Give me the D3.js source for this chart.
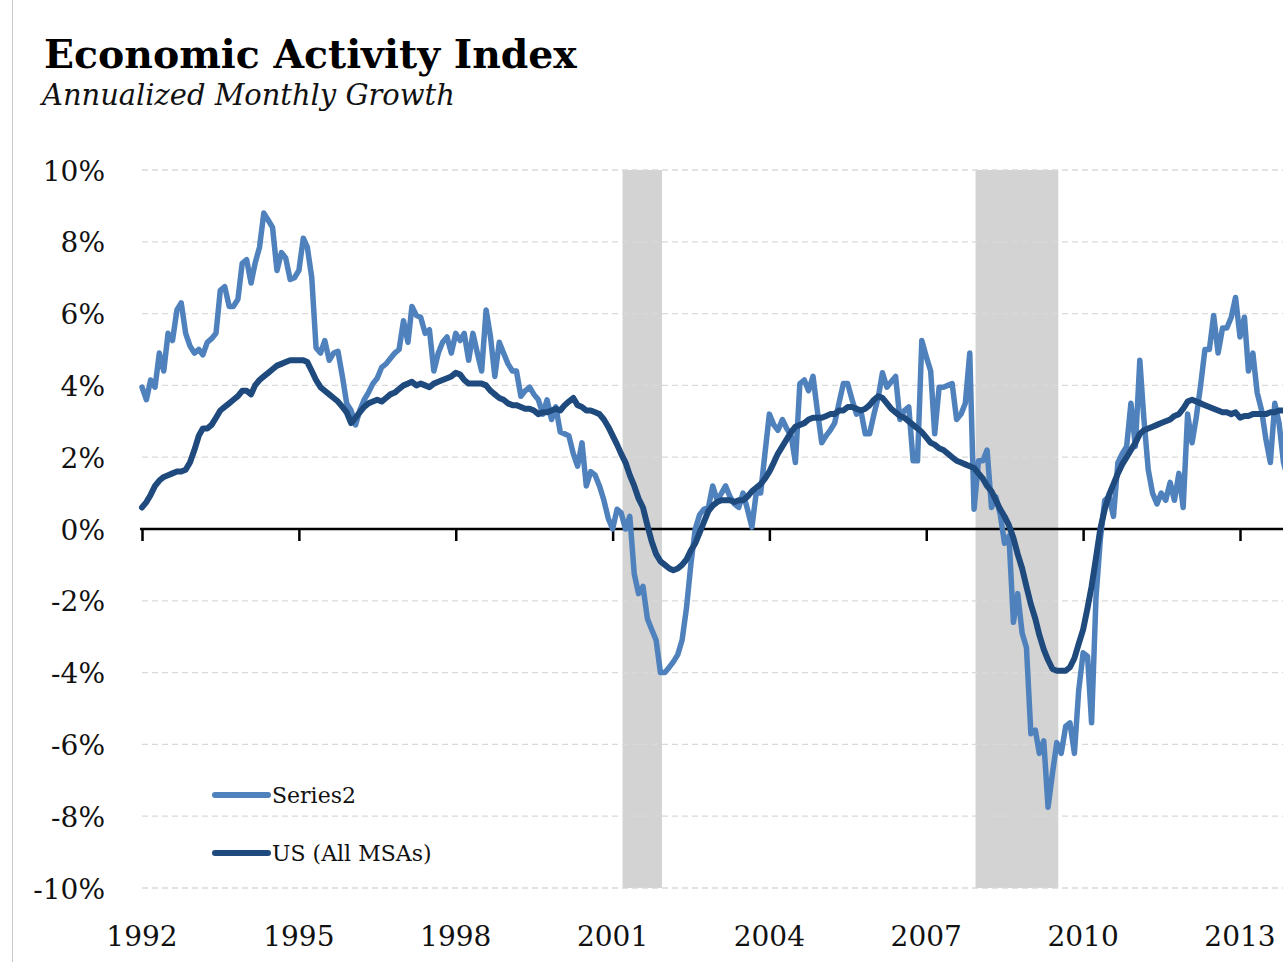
<!DOCTYPE html>
<html>
<head>
<meta charset="utf-8">
<script src="https://cdn.jsdelivr.net/npm/d3@7"></script>
<style>
  html, body { margin: 0; padding: 0; background: #fff; overflow: hidden; }
  svg { display: block; }
</style>
</head>
<body>
<svg id="chart" width="1283" height="962"></svg>
<script>
// ---------- DATA ----------
const titleText = "Economic Activity Index";
const subtitleText = "Annualized Monthly Growth";
const firstMonth = "1992-01";
const seriesNames = ["Series2", "US (All MSAs)"];

// Series2, monthly from Jan 1992 (annualized % growth)
const series2 = [
  3.95,3.6,4.15,3.95,4.9,4.4,5.45,5.25,6.1,6.3,5.45,5.1,
  4.9,5.0,4.85,5.2,5.3,5.45,6.65,6.75,6.2,6.2,6.4,7.4,
  7.5,6.85,7.4,7.85,8.8,8.6,8.4,7.2,7.7,7.55,6.95,7.0,
  7.2,8.1,7.85,7.0,5.05,4.9,5.25,4.7,4.9,4.95,4.25,3.5,
  3.3,2.9,3.3,3.6,3.8,4.05,4.2,4.5,4.6,4.75,4.9,5.0,
  5.8,5.2,6.2,5.95,5.9,5.45,5.55,4.4,4.9,5.2,5.35,4.9,
  5.45,5.25,5.45,4.7,5.45,4.9,4.4,6.1,5.35,4.25,5.2,4.9,
  4.6,4.4,4.4,3.7,3.85,3.95,3.75,3.6,3.2,3.6,3.05,3.4,
  2.7,2.65,2.6,2.1,1.75,2.4,1.2,1.6,1.5,1.2,0.8,0.3,
  0.0,0.55,0.45,0.0,0.35,-1.25,-1.8,-1.6,-2.5,-2.8,-3.1,-4.0,
  -4.0,-3.85,-3.7,-3.5,-3.1,-2.2,-1.0,0.0,0.4,0.55,0.6,1.2,
  0.8,1.0,1.2,0.9,0.7,0.6,1.0,0.55,0.05,1.0,1.0,2.1,
  3.2,2.9,2.75,3.05,2.8,2.6,1.85,4.05,4.15,3.85,4.25,3.3,
  2.4,2.6,2.75,2.95,3.5,4.05,4.05,3.6,3.2,3.3,2.65,2.65,
  3.2,3.7,4.35,3.95,4.1,4.25,3.05,3.3,3.4,1.9,1.9,5.25,
  4.8,4.4,2.65,3.95,3.95,4.0,4.05,3.05,3.2,3.5,4.9,0.55,
  1.9,1.9,2.2,0.6,0.9,0.4,-0.4,-0.2,-2.6,-1.8,-2.9,-3.3,
  -5.7,-5.6,-6.25,-5.9,-7.75,-6.8,-5.95,-6.25,-5.5,-5.4,-6.25,-4.5,
  -3.45,-3.55,-5.4,-1.9,-0.3,0.8,0.9,0.35,1.85,2.1,2.3,3.5,
  2.3,4.7,3.1,1.65,1.0,0.7,1.0,0.8,1.3,0.8,1.55,0.6,
  3.2,2.4,3.1,4.0,5.0,5.0,5.95,4.9,5.6,5.6,5.9,6.45,
  5.35,5.9,4.4,4.9,3.8,3.3,2.5,1.85,3.5,2.95,1.85,1.4
];

// US (All MSAs), monthly from Jan 1992
const usAll = [
  0.6,0.75,0.95,1.2,1.35,1.45,1.5,1.55,1.6,1.6,1.65,1.85,
  2.2,2.6,2.8,2.8,2.9,3.1,3.3,3.4,3.5,3.6,3.7,3.85,
  3.85,3.75,4.0,4.15,4.25,4.35,4.45,4.55,4.6,4.65,4.7,4.7,
  4.7,4.7,4.65,4.4,4.15,3.95,3.85,3.75,3.65,3.55,3.4,3.25,
  2.95,3.1,3.25,3.4,3.5,3.55,3.6,3.55,3.65,3.75,3.8,3.9,
  4.0,4.05,4.1,4.0,4.05,4.0,3.95,4.05,4.1,4.15,4.2,4.25,
  4.35,4.3,4.15,4.05,4.05,4.05,4.05,4.0,3.85,3.75,3.65,3.6,
  3.5,3.45,3.45,3.4,3.35,3.35,3.3,3.2,3.25,3.25,3.3,3.35,
  3.3,3.45,3.55,3.65,3.45,3.4,3.3,3.3,3.25,3.2,3.05,2.85,
  2.6,2.35,2.1,1.85,1.5,1.2,0.85,0.6,0.1,-0.35,-0.7,-0.9,
  -1.0,-1.1,-1.15,-1.1,-1.0,-0.85,-0.6,-0.4,-0.1,0.2,0.5,0.65,
  0.75,0.8,0.8,0.8,0.75,0.8,0.8,0.9,1.05,1.15,1.25,1.4,
  1.6,1.85,2.1,2.3,2.5,2.7,2.85,2.9,2.95,3.05,3.1,3.1,
  3.1,3.15,3.2,3.2,3.3,3.3,3.4,3.4,3.35,3.3,3.35,3.45,
  3.6,3.7,3.65,3.5,3.35,3.25,3.15,3.1,3.0,2.9,2.8,2.7,
  2.55,2.4,2.35,2.25,2.2,2.1,2.0,1.9,1.85,1.8,1.75,1.7,
  1.55,1.4,1.2,1.05,0.8,0.55,0.35,0.1,-0.25,-0.7,-1.1,-1.6,
  -2.1,-2.5,-2.95,-3.35,-3.65,-3.9,-3.95,-3.95,-3.95,-3.85,-3.6,-3.2,
  -2.8,-2.2,-1.6,-0.8,0.0,0.55,0.95,1.25,1.55,1.8,2.0,2.2,
  2.4,2.65,2.75,2.8,2.85,2.9,2.95,3.0,3.05,3.15,3.2,3.35,
  3.55,3.6,3.55,3.5,3.45,3.4,3.35,3.3,3.25,3.25,3.2,3.25,
  3.1,3.15,3.15,3.2,3.2,3.2,3.2,3.25,3.25,3.3,3.3,3.3
];

// Recessions (shaded): [start month, end month (exclusive)]
const recessionStarts = ["2001-03", "2007-12"];
const recessionEnds   = ["2001-12", "2009-07"];

const yTicks = [-10, -8, -6, -4, -2, 0, 2, 4, 6, 8, 10];
const xTickYears = [1992, 1995, 1998, 2001, 2004, 2007, 2010, 2013];

// ---------- DRAW ----------
const parseMonth = d3.timeParse("%Y-%m");
const start = parseMonth(firstMonth);
const months = series2.map((_, i) => d3.timeMonth.offset(start, i));

const svg = d3.select("#chart");
const W = 1283, H = 962;
const serif = "Georgia, 'DejaVu Serif', serif";

const x = d3.scaleTime()
  .domain([new Date(1992, 0, 1), new Date(2013, 0, 1)])
  .range([142, 1240]);
const y = d3.scaleLinear().domain([-10, 10]).range([888, 170]);

// left border line
svg.append("line").attr("x1", 12.5).attr("x2", 12.5).attr("y1", 0).attr("y2", H)
  .attr("stroke", "#c8c8c8").attr("stroke-width", 1);

// recession bands
svg.append("g").selectAll("rect")
  .data(recessionStarts.map((s, i) => [parseMonth(s), parseMonth(recessionEnds[i])]))
  .join("rect")
  .attr("x", d => x(d[0]) + 1.5)
  .attr("width", d => x(d[1]) - x(d[0]))
  .attr("y", y(10))
  .attr("height", y(-10) - y(10))
  .attr("fill", "#d3d3d3");

// gridlines
svg.append("g").selectAll("line")
  .data(yTicks.filter(t => t !== 0))
  .join("line")
  .attr("x1", 142).attr("x2", W)
  .attr("y1", d => y(d)).attr("y2", d => y(d))
  .attr("stroke", "#d9d9d9").attr("stroke-width", 1.3)
  .attr("stroke-dasharray", "6,4");

// y-axis labels
const yAxis = d3.axisLeft(y).tickValues(yTicks).tickSize(0).tickPadding(0)
  .tickFormat(d => d + "%");
const gy = svg.append("g").attr("transform", "translate(105,0)").call(yAxis);
gy.select(".domain").remove();
gy.selectAll("text")
  .attr("font-family", serif).attr("font-size", 28).attr("fill", "#111")
  .attr("dy", "0.36em");

// x axis at zero
const xAxis = d3.axisBottom(x)
  .tickValues(xTickYears.map(yr => new Date(yr, 0, 1)))
  .tickSize(12).tickFormat(d3.timeFormat("%Y"));
const gx = svg.append("g").attr("transform", `translate(0,${y(0)})`).call(xAxis);
gx.select(".domain").remove();
gx.selectAll(".tick line").attr("stroke", "#000").attr("stroke-width", 2.5);
gx.selectAll("text").remove();
svg.append("line").attr("x1", 140).attr("x2", W).attr("y1", y(0)).attr("y2", y(0))
  .attr("stroke", "#000").attr("stroke-width", 2.5);

// x labels at the bottom
svg.append("g").selectAll("text")
  .data(xTickYears)
  .join("text")
  .attr("x", d => x(new Date(d, 0, 1)))
  .attr("y", 946)
  .attr("text-anchor", "middle")
  .attr("font-family", serif).attr("font-size", 28).attr("fill", "#111")
  .text(d => d);

// lines
const line = d3.line().x((d, i) => x(months[i])).y(d => y(d));
svg.append("path").datum(series2)
  .attr("d", line).attr("fill", "none")
  .attr("stroke", "#4F81BD").attr("stroke-width", 5.5)
  .attr("stroke-linejoin", "round").attr("stroke-linecap", "round");
svg.append("path").datum(usAll)
  .attr("d", line).attr("fill", "none")
  .attr("stroke", "#1F4A7E").attr("stroke-width", 6)
  .attr("stroke-linejoin", "round").attr("stroke-linecap", "round");

// legend
const legColors = ["#4F81BD", "#1F4A7E"];
const leg = svg.append("g").selectAll("g").data(seriesNames).join("g")
  .attr("transform", (d, i) => `translate(0,${795 + i * 58})`);
leg.append("line").attr("x1", 215).attr("x2", 268).attr("y1", 0).attr("y2", 0)
  .attr("stroke", (d, i) => legColors[i]).attr("stroke-width", 6)
  .attr("stroke-linecap", "round");
leg.append("text").attr("x", 272).attr("y", 8)
  .attr("font-family", serif).attr("font-size", 22).attr("fill", "#111")
  .text(d => d);

// title & subtitle (fit widths)
function fitText(sel, targetW) {
  const w = sel.node().getComputedTextLength();
  const fs = parseFloat(sel.attr("font-size"));
  sel.attr("font-size", fs * targetW / w);
}
const t = svg.append("text").attr("x", 44).attr("y", 68)
  .attr("font-family", serif).attr("font-weight", "bold").attr("font-size", 36)
  .attr("fill", "#000").text(titleText);
fitText(t, 533);
const st = svg.append("text").attr("x", 42).attr("y", 105)
  .attr("font-family", serif).attr("font-style", "italic").attr("font-size", 28)
  .attr("fill", "#111").text(subtitleText);
fitText(st, 413);
</script>
</body>
</html>
